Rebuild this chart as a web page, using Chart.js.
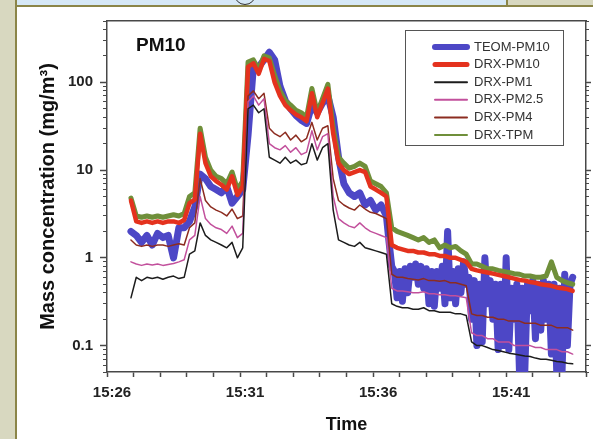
<!DOCTYPE html>
<html><head><meta charset="utf-8">
<script src="https://cdn.jsdelivr.net/npm/chart.js@4.4.1/dist/chart.umd.min.js"></script>
<style>
html,body{margin:0;padding:0;background:#fff;width:593px;height:439px;overflow:hidden;}
.f{position:absolute;}
#frameL{left:0;top:0;width:15px;height:439px;background:#d8d8c0;}
#frameLl{left:15px;top:0;width:2px;height:439px;background:#8b8548;}
#barB{left:17px;top:0;width:489px;height:5px;background:#d6e8f6;}
#barR{left:508px;top:0;width:85px;height:5px;background:#d8d8c0;}
#barV{left:506px;top:0;width:2px;height:5px;background:#8b8548;}
#barL{left:15px;top:5px;width:578px;height:2px;background:#8b8548;}
#circ{left:234px;top:-17px;width:20px;height:20px;border:1px solid #333;border-radius:50%;}
canvas{position:absolute;left:0;top:0;}
</style></head><body>
<div class="f" id="frameL"></div><div class="f" id="frameLl"></div>
<div class="f" id="barB"></div><div class="f" id="barR"></div><div class="f" id="barV"></div>
<div class="f" id="circ"></div><div class="f" id="barL"></div>
<canvas id="c" width="593" height="439"></canvas>
<script>
// ---- data (minutes after 15:26) ----
const xTickMinutes = [0,1,2,3,4,5,6,7,8,9,10,11,12,13,14,15,16,17,18];
const xLabelMinutes = [0,5,10,15];
const timeLabels = ['15:26','15:31','15:36','15:41'];
const yMajorTicks = [0.1,1,10,100];
const yMinorTicks = [0.05,0.06,0.07,0.08,0.09,0.1,0.2,0.3,0.4,0.5,0.6,0.7,0.8,0.9,1,2,3,4,5,6,7,8,9,10,20,30,40,50,60,70,80,90,100,200,300,400,500];

const tDRX = [0.9,1.1,1.3,1.5,1.7,1.9,2.1,2.3,2.5,2.7,2.9,3.1,3.3,3.5,3.7,3.9,4.1,4.3,4.5,4.7,4.9,5.1,5.3,5.5,5.7,5.9,6.1,6.3,6.5,6.7,6.9,7.1,7.3,7.5,7.7,7.9,8.1,8.3,8.5,8.7,8.9,9.1,9.3,9.5,9.7,9.9,10.1,10.3,10.5,10.7,10.9,11.1,11.3,11.5,11.7,11.9,12.1,12.3,12.5,12.7,12.9,13.1,13.3,13.5,13.7,13.9,14.1,14.3,14.5,14.7,14.9,15.1,15.3,15.5,15.7,15.9,16.1,16.3,16.5,16.7,16.9,17.1,17.3,17.5];

const drxTPM = [4.8,3.0,2.9,3.0,2.9,3.0,2.9,3.0,3.1,3.0,3.2, 5.0,5.5,30,14,10,8.5,8.0,7.0,9.5,6.0,7.5, 170,180,140,200,190,120,80,62,55,48,45,40,85,45,65,95, 30,14,12,10.5,11,12,11,7.5,7.0,6.5,5.5, 2.2,2.0,1.9,1.8,1.7,1.6,1.7,1.5,1.6,1.3,1.4,1.3,1.35,1.2,1.1, 0.85,0.85,0.8,0.75,0.75,0.72,0.7,0.68,0.66,0.65,0.62,0.62,0.6,0.6,0.62,0.9,0.6,0.55,0.52,0.5];
const drxPM10 = [4.5,2.6,2.5,2.6,2.5,2.6,2.5,2.6,2.6,2.5,2.7, 4.2,4.6,26,12,8.5,7.5,6.8,6.0,8.5,5.2,6.5, 150,165,125,185,175,100,70,55,48,43,40,36,75,40,58,85, 26,12,10,9,9.5,10,9.5,6.5,6.0,5.5,5.0, 1.4,1.3,1.25,1.2,1.2,1.15,1.15,1.1,1.1,1.05,1.05,1.0,1.0,0.95,0.9, 0.75,0.72,0.7,0.68,0.66,0.64,0.62,0.6,0.58,0.56,0.55,0.53,0.52,0.5,0.49,0.48,0.46,0.45,0.44,0.42];
const drxPM4 = [1.6,1.4,1.35,1.4,1.35,1.4,1.4,1.35,1.4,1.45,1.4, 2.2,2.5,8,4.5,3.8,3.5,3.3,3.0,3.6,2.8,3.0, 70,80,65,75,30,26,24,27,22,25,21,23,35,22,30,32, 8,4.5,4.0,3.7,3.5,4.0,3.6,3.3,3.2,3.0,2.8, 0.65,0.6,0.6,0.58,0.57,0.56,0.58,0.55,0.55,0.54,0.55,0.52,0.52,0.5,0.48, 0.23,0.22,0.22,0.21,0.21,0.2,0.2,0.19,0.19,0.19,0.18,0.18,0.18,0.17,0.17,0.17,0.16,0.16,0.16,0.15];
const drxPM25 = [0.9,0.85,0.82,0.85,0.83,0.85,0.82,0.84,0.86,0.9,0.95, 1.6,1.8,5,2.8,2.4,2.2,2.1,1.9,2.3,1.7,1.9, 60,70,55,65,20,18,17,19,16,18,15,16,28,17,24,26, 5,2.8,2.5,2.3,2.2,2.5,2.2,2.0,1.9,1.8,1.7, 0.45,0.42,0.42,0.41,0.4,0.4,0.41,0.39,0.39,0.38,0.38,0.37,0.37,0.36,0.35, 0.14,0.13,0.13,0.12,0.12,0.11,0.11,0.11,0.1,0.1,0.1,0.1,0.095,0.095,0.09,0.09,0.09,0.085,0.085,0.08];
const drxPM1 = [0.35,0.6,0.55,0.6,0.58,0.6,0.57,0.6,0.62,0.58,0.6, 1.1,1.2,2.5,1.8,1.6,1.5,1.4,1.3,1.5,1.0,1.3, 50,55,45,50,14,13,12,14,12,13,11.5,12,20,13,18,20, 3.5,1.6,1.5,1.4,1.35,1.5,1.3,1.25,1.2,1.15,1.1, 0.3,0.28,0.27,0.27,0.26,0.26,0.27,0.25,0.25,0.24,0.24,0.24,0.23,0.23,0.22, 0.11,0.1,0.1,0.095,0.09,0.088,0.085,0.082,0.08,0.078,0.076,0.075,0.072,0.07,0.07,0.068,0.066,0.065,0.063,0.062];

const tTEOM = [0.9,1.1,1.3,1.5,1.7,1.9,2.1,2.3,2.5,2.7,2.9,3.1,3.3,3.5,3.7,3.9,4.1,4.3,4.5,4.7,4.9,5.1,5.3,5.5,5.7,5.9,6.1,6.3,6.5,6.7,6.9,7.1,7.3,7.5,7.7,7.9,8.1,8.3,8.5,8.7,8.9,9.1,9.3,9.5,9.7,9.9,10.1,10.3,10.5,
 10.6,10.7,10.8,10.9,11.0,11.1,11.2,11.3,11.4,11.5,11.6,11.7,11.8,11.9,12.0,12.1,12.2,12.3,12.4,12.5,12.6,12.7,12.8,12.9,13.0,13.1,13.2,13.3,13.4,13.5,13.6,13.7,13.8,13.9,14.0,14.1,14.2,14.3,14.4,14.5,14.6,14.7,14.8,14.9,15.0,15.1,15.2,15.3,15.4,15.5,15.6,15.7,15.8,15.9,16.0,16.1,16.2,16.3,16.4,16.5,16.6,16.7,16.8,16.9,17.0,17.1,17.2,17.3,17.4,17.5];
const teomPM10 = [2.0,1.8,1.5,1.8,1.4,1.9,1.7,1.8,1.0,2.2,2.2, 2.6,3.8,9,8,6.5,6.0,5.5,6.5,4.2,5.0,6.0, 25,150,150,180,220,180,90,62,50,42,37,34,55,45,58,70, 40,14,7,5.5,5.0,5.5,4.0,4.5,3.5,4.0,3.0,
 1.5,0.8,0.7,0.35,0.7,0.32,0.75,0.4,0.8,0.6,0.85,0.5,0.8,0.45,0.75,0.3,0.7,0.28,0.7,0.45,0.8,0.3,2.0,0.35,0.7,0.3,0.75,0.4,0.9,0.5,
 0.6,0.2,0.55,0.1,0.5,0.11,1.0,0.3,0.55,0.2,0.5,0.09,0.5,0.1,1.0,0.09,0.45,0.2,0.5,0.05,0.45,0.05,0.5,0.25,0.55,0.12,0.5,0.15,0.55,0.2,0.5,0.08,0.5,0.05,0.45,0.05,0.65,0.1,0.5,0.6];

const pts = (ts, vs) => ts.map((t, i) => ({x: t, y: vs[i]}));
const FONT = '"Liberation Sans", Arial, sans-serif';

const datasets = [
  {label:'TEOM-PM10', data:pts(tTEOM, teomPM10), borderColor:'#4d47c6', borderWidth:7, order:6, legendW:6},
  {label:'DRX-PM10', data:pts(tDRX, drxPM10), borderColor:'#e4321e', borderWidth:4.5, order:4, legendW:5},
  {label:'DRX-PM1', data:pts(tDRX, drxPM1), borderColor:'#1c1c1c', borderWidth:1.5, order:1, legendW:2},
  {label:'DRX-PM2.5', data:pts(tDRX, drxPM25), borderColor:'#c2509c', borderWidth:1.5, order:2, legendW:2},
  {label:'DRX-PM4', data:pts(tDRX, drxPM4), borderColor:'#8c2c20', borderWidth:1.5, order:3, legendW:2},
  {label:'DRX-TPM', data:pts(tDRX, drxTPM), borderColor:'#6f8f3a', borderWidth:5, order:5, legendW:2}
];
datasets.forEach(d => { d.pointRadius = 0; d.fill = false; d.tension = 0; d.borderJoinStyle = 'round'; d.borderCapStyle = 'round'; });

const AX = '#484848';
const setTicks = vals => scale => { scale.ticks = vals.map(v => ({value: v})); };

const boxLegend = {
  id: 'boxLegend',
  afterDatasetsDraw(chart) {
    const ctx = chart.ctx;
    ctx.save();
    ctx.fillStyle = '#fff';
    ctx.fillRect(405.5, 30.5, 158, 115);
    ctx.strokeStyle = '#555'; ctx.lineWidth = 1;
    ctx.strokeRect(405.5, 30.5, 158, 115);
    chart.data.datasets.forEach((ds, i) => {
      const y = 47 + i * 17.6;
      ctx.strokeStyle = ds.borderColor; ctx.lineWidth = ds.legendW; ctx.lineCap = 'round';
      ctx.beginPath(); ctx.moveTo(435, y); ctx.lineTo(467, y); ctx.stroke();
      ctx.fillStyle = '#333'; ctx.font = '13px ' + FONT; ctx.textBaseline = 'middle'; ctx.textAlign = 'left';
      ctx.fillText(ds.label, 474, y);
    });
    ctx.font = 'bold 19px ' + FONT; ctx.fillStyle = '#111'; ctx.textBaseline = 'middle';
    ctx.fillText('PM10', 136, 46);
    ctx.restore();
  }
};

new Chart(document.getElementById('c'), {
  type: 'line',
  data: { datasets },
  plugins: [boxLegend],
  options: {
    responsive: false, animation: false, devicePixelRatio: 1,
    layout: { padding: 0 },
    plugins: { legend: { display: false }, tooltip: { enabled: false } },
    scales: {
      x: {
        type: 'linear', position: 'bottom', min: 0, max: 18,
        afterBuildTicks: setTicks(xTickMinutes),
        afterFit: s => { s.height = 67; },
        ticks: {
          autoSkip: false, maxRotation: 0, padding: 7, labelOffset: 5,
          color: '#222', font: { family: FONT, size: 15, weight: 'bold' },
          callback: v => { const k = xLabelMinutes.indexOf(v); return k >= 0 ? timeLabels[k] : ''; }
        },
        grid: { drawOnChartArea: false, tickLength: 5, color: AX, tickColor: AX, tickWidth: 1.5 },
        border: { display: true, color: AX, width: 1.5 },
        title: { display: true, text: 'Time', color: '#111', font: { family: FONT, size: 18, weight: 'bold' }, padding: { top: 0, bottom: 3 } }
      },
      xTop: {
        type: 'linear', position: 'top', min: 0, max: 18,
        afterFit: s => { s.height = 21; },
        ticks: { display: false },
        grid: { display: false },
        border: { display: true, color: AX, width: 1.5 }
      },
      y: {
        type: 'logarithmic', position: 'left', min: 0.05, max: 500, weight: 1,
        afterBuildTicks: setTicks(yMajorTicks),
        afterFit: s => { s.width = 107; },
        ticks: { padding: 7, color: '#222', font: { family: FONT, size: 15, weight: 'bold' }, callback: v => String(v) },
        grid: { drawOnChartArea: false, tickLength: 7, color: AX, tickColor: AX, tickWidth: 1.5 },
        border: { display: true, color: AX, width: 1.5 },
        title: { display: true, text: 'Mass concentration (mg/m³)', color: '#111', font: { family: FONT, size: 20, weight: 'bold' }, padding: { top: 36, bottom: 0 } }
      },
      yMinor: {
        type: 'logarithmic', position: 'left', min: 0.05, max: 500, weight: 0,
        afterBuildTicks: setTicks(yMinorTicks),
        afterFit: s => { s.width = 0; },
        ticks: { display: false },
        grid: { drawOnChartArea: false, tickLength: 4, color: AX, tickColor: AX, tickWidth: 1 },
        border: { display: false }
      },
      yR: {
        type: 'logarithmic', position: 'right', min: 0.05, max: 500, weight: 1,
        afterBuildTicks: setTicks(yMajorTicks),
        afterFit: s => { s.width = 5; },
        ticks: { display: false },
        grid: { drawOnChartArea: false, tickLength: 5, color: AX, tickColor: AX, tickWidth: 1.5 },
        border: { display: true, color: AX, width: 1.5 }
      },
      yRMinor: {
        type: 'logarithmic', position: 'right', min: 0.05, max: 500, weight: 0,
        afterBuildTicks: setTicks(yMinorTicks),
        afterFit: s => { s.width = 0; },
        ticks: { display: false },
        grid: { drawOnChartArea: false, tickLength: 3, color: AX, tickColor: AX, tickWidth: 1 },
        border: { display: false }
      }
    }
  }
});
</script>
</body></html>
